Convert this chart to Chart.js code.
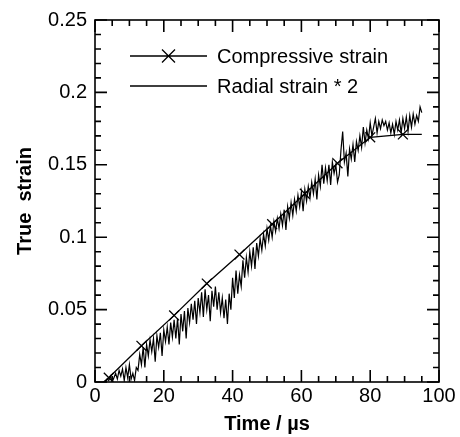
<!DOCTYPE html>
<html>
<head>
<meta charset="utf-8">
<script src="https://cdn.jsdelivr.net/npm/chart.js@4/dist/chart.umd.min.js"></script>
<style>
	html, body { margin: 0; padding: 0; background: #fff; }
	#wrap { width: 460px; height: 437px; }
</style>
</head>
<body>
<div id="wrap"><canvas id="strainChart" width="460" height="437"></canvas></div>
<script>
var seriesNames = ['Compressive strain', 'Radial strain * 2'];

// compressive strain, line with X markers
var compTime = [2.5, 4, 13.5, 23, 32.5, 42, 51.5, 61, 70.5, 80, 89.5, 95];
var compStrain = [0, 0.003, 0.025, 0.046, 0.068, 0.088, 0.109, 0.130, 0.151, 0.169, 0.171, 0.171];
var compMarker = [0, 1, 1, 1, 1, 1, 1, 1, 1, 1, 1, 0];

// radial strain * 2, noisy trace
var radialTime = [
	3, 3.5, 4, 4.5, 5, 5.5, 6, 6.5, 7, 7.5,
	8, 8.5, 9, 9.5, 10, 10.5, 11, 11.5, 12, 12.5,
	13, 13.5, 14, 14.5, 15, 15.5, 16, 16.5, 17, 17.5,
	18, 18.5, 19, 19.5, 20, 20.5, 21, 21.5, 22, 22.5,
	23, 23.5, 24, 24.5, 25, 25.5, 26, 26.5, 27, 27.5,
	28, 28.5, 29, 29.5, 30, 30.5, 31, 31.5, 32, 32.5,
	33, 33.5, 34, 34.5, 35, 35.5, 36, 36.5, 37, 37.5,
	38, 38.5, 39, 39.5, 40, 40.5, 41, 41.5, 42, 42.5,
	43, 43.5, 44, 44.5, 45, 45.5, 46, 46.5, 47, 47.5,
	48, 48.5, 49, 49.5, 50, 50.5, 51, 51.5, 52, 52.5,
	53, 53.5, 54, 54.5, 55, 55.5, 56, 56.5, 57, 57.5,
	58, 58.5, 59, 59.5, 60, 60.5, 61, 61.5, 62, 62.5,
	63, 63.5, 64, 64.5, 65, 65.5, 66, 66.5, 67, 67.5,
	68, 68.5, 69, 69.5, 70, 70.5, 71, 71.5, 72, 72.5,
	73, 73.5, 74, 74.5, 75, 75.5, 76, 76.5, 77, 77.5,
	78, 78.5, 79, 79.5, 80, 80.5, 81, 81.5, 82, 82.5,
	83, 83.5, 84, 84.5, 85, 85.5, 86, 86.5, 87, 87.5,
	88, 88.5, 89, 89.5, 90, 90.5, 91, 91.5, 92, 92.5,
	93, 93.5, 94, 94.5, 95
];
var radialStrain = [
	0.000, 0.002, 0.001, 0.004, 0.000, 0.003, 0.006, 0.002, 0.008, 0.004,
	0.009, 0.001, 0.010, 0.003, 0.012, 0.002, 0.006, 0.001, 0.010, 0.008,
	0.019, 0.012, 0.024, 0.010, 0.026, 0.018, 0.029, 0.021, 0.030, 0.014,
	0.032, 0.024, 0.034, 0.018, 0.036, 0.028, 0.038, 0.026, 0.041, 0.031,
	0.043, 0.030, 0.044, 0.026, 0.047, 0.035, 0.049, 0.030, 0.051, 0.041,
	0.054, 0.043, 0.056, 0.040, 0.058, 0.048, 0.062, 0.045, 0.064, 0.050,
	0.060, 0.042, 0.063, 0.052, 0.066, 0.050, 0.062, 0.048, 0.058, 0.044,
	0.057, 0.040, 0.061, 0.050, 0.072, 0.058, 0.077, 0.061, 0.074, 0.066,
	0.084, 0.072, 0.086, 0.076, 0.090, 0.080, 0.093, 0.078, 0.096, 0.087,
	0.099, 0.091, 0.102, 0.094, 0.106, 0.098, 0.108, 0.100, 0.111, 0.104,
	0.113, 0.106, 0.116, 0.108, 0.119, 0.105, 0.121, 0.113, 0.124, 0.115,
	0.126, 0.118, 0.129, 0.121, 0.131, 0.118, 0.133, 0.125, 0.135, 0.127,
	0.138, 0.130, 0.140, 0.126, 0.143, 0.135, 0.150, 0.137, 0.148, 0.139,
	0.150, 0.136, 0.152, 0.144, 0.150, 0.138, 0.143, 0.160, 0.173, 0.152,
	0.158, 0.142, 0.161, 0.154, 0.164, 0.152, 0.166, 0.160, 0.170, 0.162,
	0.176, 0.165, 0.174, 0.168, 0.179, 0.170, 0.176, 0.182, 0.172, 0.180,
	0.175, 0.181, 0.177, 0.180, 0.174, 0.179, 0.172, 0.178, 0.171, 0.180,
	0.174, 0.181, 0.172, 0.182, 0.175, 0.183, 0.173, 0.184, 0.176, 0.185,
	0.178, 0.184, 0.180, 0.190, 0.186
];

var xMax = 100, xMajor = 20, xMinor = 5;
var yMax = 0.25, yMajor = 0.05, yMinor = 0.01;

var FONT = '"Liberation Sans", Arial, Helvetica, sans-serif';
var INK = '#000';

function toPoints(xs, ys) {
	var pts = [];
	for (var i = 0; i < xs.length; i++) {
		pts.push({ x: xs[i], y: ys[i] });
	}
	return pts;
}

// frame, ticks pointing inward on all four sides, and the legend box
var framePlugin = {
	id: 'frame',
	afterDraw: function (chart) {
		var ctx = chart.ctx;
		var a = chart.chartArea;
		var sx = chart.scales.x;
		var sy = chart.scales.y;
		var v, p, len, k;

		ctx.save();
		ctx.strokeStyle = INK;
		ctx.lineWidth = 1.6;
		ctx.strokeRect(a.left, a.top, a.right - a.left, a.bottom - a.top);

		ctx.beginPath();
		for (k = 0; k * xMinor <= xMax + 1e-9; k++) {
			v = k * xMinor;
			p = sx.getPixelForValue(v);
			len = (k % (xMajor / xMinor) === 0) ? 12 : 6;
			ctx.moveTo(p, a.bottom); ctx.lineTo(p, a.bottom - len);
			ctx.moveTo(p, a.top); ctx.lineTo(p, a.top + len);
		}
		for (k = 0; k * yMinor <= yMax + 1e-9; k++) {
			v = k * yMinor;
			p = sy.getPixelForValue(v);
			len = (k % Math.round(yMajor / yMinor) === 0) ? 12 : 6;
			ctx.moveTo(a.left, p); ctx.lineTo(a.left + len, p);
			ctx.moveTo(a.right, p); ctx.lineTo(a.right - len, p);
		}
		ctx.stroke();

		// legend
		var lx0 = a.left + 35, lx1 = a.left + 112, tx = a.left + 122;
		var rows = [a.top + 36, a.top + 66];
		ctx.lineWidth = 1.3;
		ctx.beginPath();
		ctx.moveTo(lx0, rows[0]); ctx.lineTo(lx1, rows[0]);
		ctx.moveTo(lx0, rows[1]); ctx.lineTo(lx1, rows[1]);
		var mx = (lx0 + lx1) / 2, r = 6.5;
		ctx.moveTo(mx - r, rows[0] - r); ctx.lineTo(mx + r, rows[0] + r);
		ctx.moveTo(mx - r, rows[0] + r); ctx.lineTo(mx + r, rows[0] - r);
		ctx.stroke();

		ctx.fillStyle = INK;
		ctx.font = '20px ' + FONT;
		ctx.textAlign = 'left';
		ctx.textBaseline = 'middle';
		ctx.fillText(seriesNames[0], tx, rows[0] + 1);
		ctx.fillText(seriesNames[1], tx, rows[1] + 1);
		ctx.restore();
	}
};

var ctx = document.getElementById('strainChart');

new Chart(ctx, {
	type: 'line',
	data: {
		datasets: [{
			label: seriesNames[0],
			data: toPoints(compTime, compStrain),
			borderColor: INK,
			backgroundColor: INK,
			borderWidth: 1.3,
			pointStyle: 'crossRot',
			pointRadius: function (c) { return compMarker[c.dataIndex] ? 7 : 0; },
			pointBorderWidth: 1.3,
			pointBorderColor: INK,
			tension: 0,
			fill: false
		}, {
			label: seriesNames[1],
			data: toPoints(radialTime, radialStrain),
			borderColor: INK,
			borderWidth: 1.2,
			pointRadius: 0,
			tension: 0,
			fill: false
		}]
	},
	options: {
		responsive: false,
		animation: false,
		events: [],
		layout: { padding: { top: 16, right: 21, left: 0, bottom: 0 } },
		plugins: {
			legend: { display: false },
			tooltip: { enabled: false }
		},
		scales: {
			x: {
				type: 'linear',
				min: 0,
				max: xMax,
				grid: { display: false, drawTicks: false },
				border: { display: false },
				ticks: {
					stepSize: xMajor,
					color: INK,
					padding: 2,
					maxRotation: 0,
					font: { family: FONT, size: 20, lineHeight: 1.2 }
				},
				title: {
					display: true,
					text: 'Time / µs',
					color: INK,
					padding: { top: 0, bottom: 1 },
					font: { family: FONT, size: 20, weight: 'bold', lineHeight: 1.2 }
				},
				afterFit: function (s) { s.height = 55; }
			},
			y: {
				type: 'linear',
				min: 0,
				max: yMax,
				grid: { display: false, drawTicks: false },
				border: { display: false },
				ticks: {
					stepSize: yMajor,
					color: INK,
					padding: 8,
					font: { family: FONT, size: 20, lineHeight: 1.2 },
					callback: function (v) { return Math.round(v * 100) / 100; }
				},
				title: {
					display: true,
					text: 'True  strain',
					color: INK,
					padding: { top: 13, bottom: 0 },
					font: { family: FONT, size: 20, weight: 'bold', lineHeight: 1.2 }
				},
				afterFit: function (s) { s.width = 95; }
			}
		}
	},
	plugins: [framePlugin]
});
</script>
</body>
</html>
